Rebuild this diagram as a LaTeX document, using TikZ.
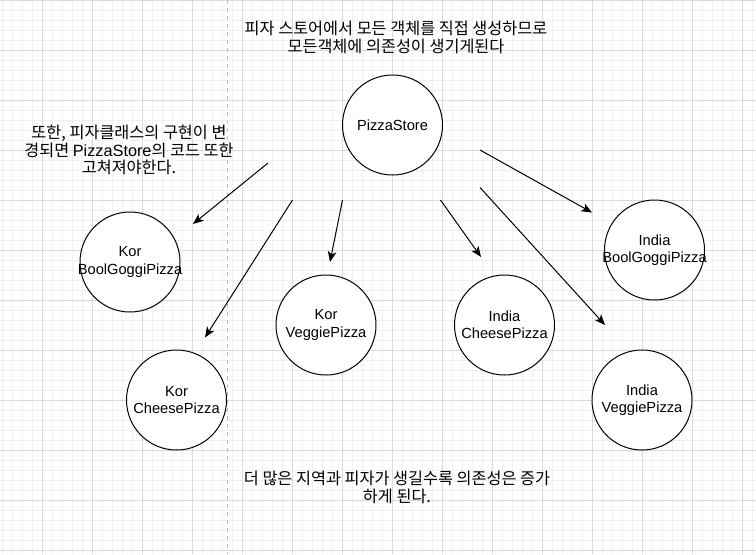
\documentclass[tikz,border=0pt]{standalone}
\usepackage{fontspec}
\setmainfont{Liberation Sans}
\newfontfamily\kor{Noto Sans CJK KR}
\usetikzlibrary{arrows.meta}
\definecolor{gridmajor}{HTML}{DADADA}
\definecolor{gridminor}{HTML}{F0F0F0}
\definecolor{divider}{HTML}{BDBDBD}

\begin{document}
\begin{tikzpicture}[x=0.75pt,y=-0.75pt,
  pizza/.style={draw=black,fill=white,circle,line width=0.75pt,minimum size=75pt,inner sep=0pt},
  dep/.style={-{Stealth[length=8pt,width=6.5pt,inset=2.2pt]},line width=0.75pt},
  note/.style={align=center,font=\fontsize{12.2pt}{13pt}\selectfont},
  every label/.style={align=center,font=\fontsize{11pt}{13pt}\selectfont}]
  \useasboundingbox (0,0) rectangle (756,554);
  \fill[white] (0,0) rectangle (756,554);
  % grid
  \foreach \gx in {2,12,...,752} \draw[gridminor,line width=0.75pt] (\gx,0) -- (\gx,554);
  \foreach \gy in {0,10,...,550} \draw[gridminor,line width=0.75pt] (0,\gy) -- (756,\gy);
  \foreach \gx in {42,92,...,742} \draw[gridmajor,line width=0.75pt] (\gx,0) -- (\gx,554);
  \foreach \gy in {0,50,...,550} \draw[gridmajor,line width=0.75pt] (0,\gy) -- (756,\gy);
  \draw[divider,line width=0.75pt,dash pattern=on 3pt off 3pt] (227,0) -- (227,554);
  % circles
  \node[pizza,label={center:PizzaStore}] (store) at (392.5,125) {};
  \node[pizza,label={center:Kor\\BoolGoggiPizza}] (korBool) at (130,262) {};
  \node[pizza,label={center:Kor\\CheesePizza}] (korCheese) at (176.5,400) {};
  \node[pizza,label={center:Kor\\VeggiePizza}] (korVeggie) at (326,325) {};
  \node[pizza,label={center:India\\CheesePizza}] (indCheese) at (504.5,325) {};
  \node[pizza,label={center:India\\BoolGoggiPizza}] (indBool) at (654.5,250) {};
  \node[pizza,label={center:India\\VeggiePizza}] (indVeggie) at (642,400) {};
  % arrows
  \coordinate (t1) at (268,163);   \coordinate (h1) at (193,224);
  \coordinate (t2) at (292.5,200); \coordinate (h2) at (205,337.5);
  \coordinate (t3) at (342.5,200); \coordinate (h3) at (330,262);
  \coordinate (t4) at (440.5,200); \coordinate (h4) at (481,257);
  \coordinate (t5) at (480,150);   \coordinate (h5) at (592,212.5);
  \coordinate (t6) at (480,187.5); \coordinate (h6) at (605,325);
  \foreach \i in {1,...,6} \draw[dep] (t\i) -- (h\i);
  % notes
  \node[note] (topNote) at (396,37.5) {\kor 피자 스토어에서 모든 객체를 직접 생성하므로\\\kor 모든객체에 의존성이 생기게된다};
  \node[note] (leftNote) at (129,150) {\kor 또한, 피자클래스의 구현이 변\\{\kor 경되면 }PizzaStore{\kor 의 코드 또한}\\\kor 고쳐져야한다.};
  \node[note] (bottomNote) at (397,487.5) {\kor 더 많은 지역과 피자가 생길수록 의존성은 증가\\\kor 하게 된다.};
\end{tikzpicture}
\end{document}
